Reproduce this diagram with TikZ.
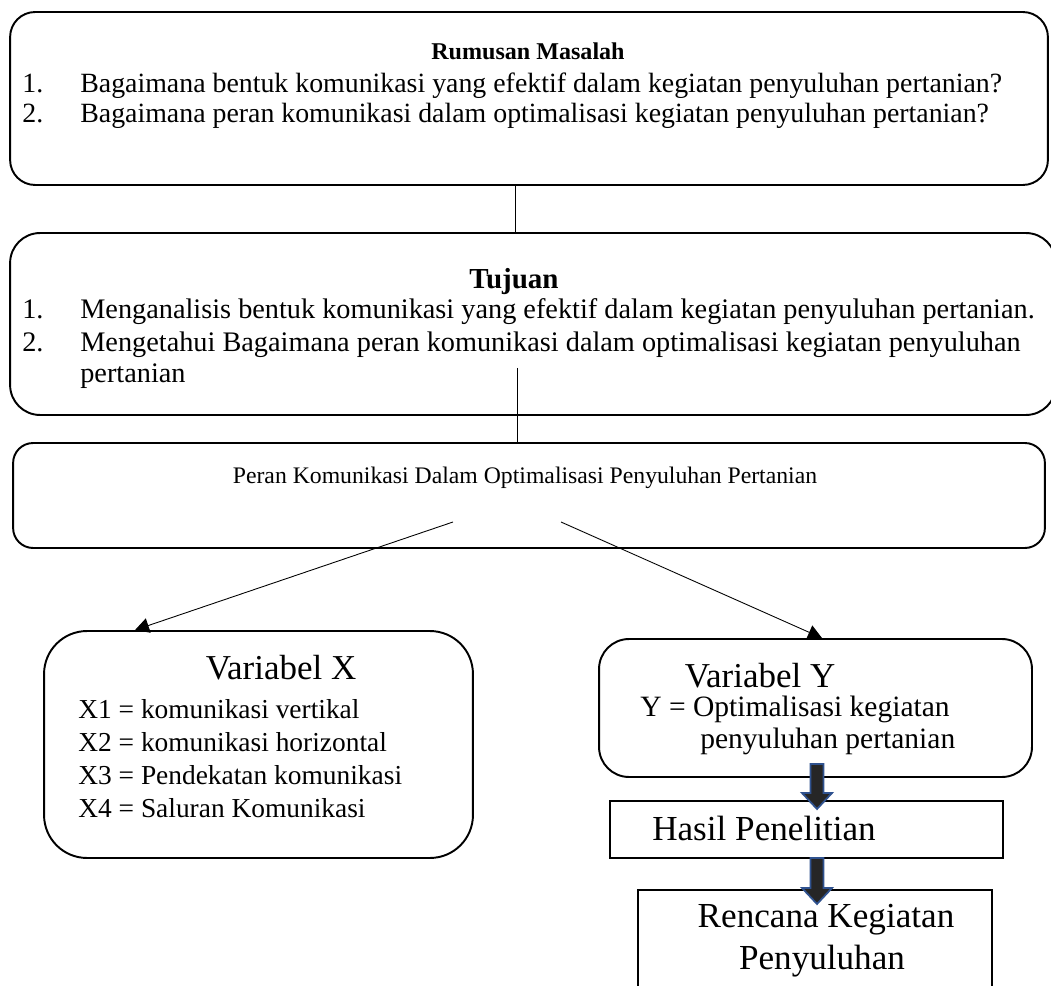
\documentclass[tikz,border=0pt]{standalone}
\usepackage{fontspec}
\setmainfont{Liberation Serif}
\usetikzlibrary{arrows.meta}
\definecolor{arrowblue}{HTML}{2F528F}
\definecolor{arrowfill}{HTML}{262626}
\newcommand\fz[1]{\fontsize{#1}{#1}\selectfont}

\begin{document}
\begin{tikzpicture}[x=0.02cm,y=-0.02cm,
  box/.style={draw,line width=1.1pt,rounded corners=#1,inner sep=0pt},
  plainbox/.style={draw,line width=0.8pt,inner sep=0pt},
  txt/.style={inner sep=0pt,anchor=base west},
  ctxt/.style={inner sep=0pt,anchor=base},
  arr/.style={line width=0.5pt,-{Triangle[length=0.28cm,width=0.3cm]}},
  blk/.style={fill=arrowfill,draw=arrowblue,line width=1pt}]
  \useasboundingbox (0,0) rectangle (1051,986);
  \clip (0,0) rectangle (1051,986);

  \node[box=0.5cm,minimum width=20.76cm,minimum height=3.46cm] (r) at (529,98.5) {};
  \node[box=0.6cm,minimum width=20.92cm,minimum height=3.64cm] (t) at (533,324) {};
  \node[box=0.4cm,minimum width=20.64cm,minimum height=2.1cm] (p) at (529,495.5) {};
  \node[box=0.86cm,minimum width=8.58cm,minimum height=4.54cm] (x) at (258.5,744.5) {};
  \node[box=0.6cm,minimum width=8.66cm,minimum height=2.76cm] (y) at (815.5,708) {};
  \node[plainbox,minimum width=7.86cm,minimum height=1.14cm] (h) at (806.5,829.5) {};
  \node[plainbox,minimum width=7.08cm,minimum height=2.4cm] (k) at (815,950) {};

  \node[ctxt,font=\fz{13.7}\bfseries] (rt) at (528,60) {Rumusan Masalah};
  \node[txt,font=\fz{15.85}] (r1) at (22,93) {\makebox[1.16cm][l]{1.}Bagaimana bentuk komunikasi yang efektif dalam kegiatan penyuluhan pertanian?};
  \node[txt,font=\fz{15.85}] (r2) at (22,123) {\makebox[1.16cm][l]{2.}Bagaimana peran komunikasi dalam optimalisasi kegiatan penyuluhan pertanian?};

  \node[ctxt,font=\fz{16.5}\bfseries] (tt) at (514,289) {Tujuan};
  \node[txt,font=\fz{16.1}] (t1) at (22,319) {\makebox[1.16cm][l]{1.}Menganalisis bentuk komunikasi yang efektif dalam kegiatan penyuluhan pertanian.};
  \node[txt,font=\fz{16.1}] (t2) at (22,352) {\makebox[1.16cm][l]{2.}Mengetahui Bagaimana peran komunikasi dalam optimalisasi kegiatan penyuluhan};
  \node[txt,font=\fz{16.1}] (t3) at (80,382) {pertanian};

  \node[ctxt,font=\fz{13.5}] (pt) at (525,483) {Peran Komunikasi Dalam Optimalisasi Penyuluhan Pertanian};

  \node[ctxt,font=\fz{19.9}] (xt) at (281,679) {Variabel X};
  \node[txt,font=\fz{15.6}] (x1) at (78,718) {X1 = komunikasi vertikal};
  \node[txt,font=\fz{15.6}] (x2) at (78,751) {X2 = komunikasi horizontal};
  \node[txt,font=\fz{15.6}] (x3) at (78,784) {X3 = Pendekatan komunikasi};
  \node[txt,font=\fz{15.6}] (x4) at (78,817) {X4 = Saluran Komunikasi};

  \node[ctxt,font=\fz{19.9}] (yt) at (760,687) {Variabel Y};
  \node[txt,font=\fz{16.8}] (y1) at (640,716) {Y = Optimalisasi kegiatan};
  \node[txt,font=\fz{16.8}] (y2) at (700,748) {penyuluhan pertanian};

  \node[ctxt,font=\fz{20}] (ht) at (764,840) {Hasil Penelitian};
  \node[ctxt,font=\fz{20}] (k1) at (826,927) {Rencana Kegiatan};
  \node[ctxt,font=\fz{20}] (k2) at (822,969) {Penyuluhan};

  \coordinate (m1) at (515,0);
  \coordinate (m2) at (517,368);
  \draw[line width=0.5pt] (r.south -| m1) -- (t.north -| m1);
  \draw[line width=0.5pt] (m2) -- (m2 |- p.north);

  \coordinate (s1) at (453,522);
  \coordinate (e1) at (135,0);
  \coordinate (s2) at (561,522);
  \coordinate (e2) at (822,0);
  \draw[arr] (s1) -- (e1 |- x.north);
  \draw[arr] (s2) -- (e2 |- y.north);

  \coordinate (b1) at (817,764);
  \coordinate (b2) at (817,858);
  \draw[blk] (b1) ++(-6.5,0) -- ++(13,0) -- ++(0,29) -- ++(8.5,0) -- ++(-15,16) -- ++(-15,-16) -- ++(8.5,0) -- cycle;
  \draw[blk] (b2) ++(-6.5,0) -- ++(13,0) -- ++(0,30) -- ++(8.5,0) -- ++(-15,16) -- ++(-15,-16) -- ++(8.5,0) -- cycle;
\end{tikzpicture}
\end{document}
